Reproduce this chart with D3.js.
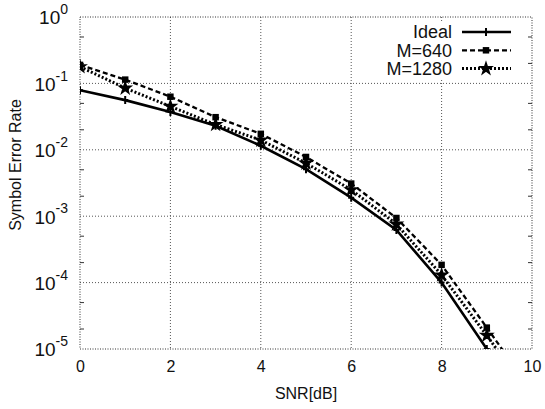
<!DOCTYPE html>
<html><head><meta charset="utf-8">
<script src="https://cdn.jsdelivr.net/npm/d3@7"></script>
<style>body{margin:0;background:#fff}text{font-family:"Liberation Sans",Arial,sans-serif;fill:#111}</style>
</head><body>
<svg id="c" width="545" height="409"></svg>
<script>
const snr = [0,1,2,3,4,5,6,7,8,9,10];
const idealSER = [0.079,0.056,0.037,0.023,0.0115,0.0051,0.0019,0.00062,0.0001,0.00001];
const m640SER  = [0.19,0.114,0.063,0.031,0.0174,0.0078,0.0031,0.00094,0.000185,0.000021,0.0000023];
const m1280SER = [0.178,0.085,0.045,0.024,0.014,0.0063,0.0025,0.00076,0.00013,0.000016,0.0000018];
const seriesNames = ["Ideal","M=640","M=1280"];
const xTicks = [0,2,4,6,8,10];
const yExps = [0,-1,-2,-3,-4,-5];

const svg = d3.select("#c");
const L=80, R=532, T=17, B=349;
const x = d3.scaleLinear().domain([0,10]).range([L,R]);
const y = d3.scaleLog().domain([1e-5,1]).range([B,T]);

svg.append("defs").append("clipPath").attr("id","clip")
  .append("rect").attr("x",L).attr("y",T).attr("width",R-L).attr("height",B-T);

const grid = svg.append("g").attr("stroke","#555").attr("stroke-width",1).attr("stroke-dasharray","1,2");
xTicks.slice(1,-1).forEach(v=>grid.append("line").attr("x1",x(v)).attr("x2",x(v)).attr("y1",T).attr("y2",B));
yExps.slice(1,-1).forEach(e=>grid.append("line").attr("x1",L).attr("x2",R).attr("y1",y(Math.pow(10,e))).attr("y2",y(Math.pow(10,e))));

// minor ticks (2 and 5 per decade)
const minor=[];
for(let e=-5;e<0;e++){ minor.push(2*Math.pow(10,e)); minor.push(5*Math.pow(10,e)); }
const tk = svg.append("g").attr("stroke","#333").attr("stroke-width",1);
minor.forEach(v=>{
  tk.append("line").attr("x1",L).attr("x2",L+4).attr("y1",y(v)).attr("y2",y(v));
  tk.append("line").attr("x1",R).attr("x2",R-4).attr("y1",y(v)).attr("y2",y(v));
});

// frame (dotted)
svg.append("rect").attr("x",L).attr("y",T).attr("width",R-L).attr("height",B-T)
  .attr("fill","none").attr("stroke","#333").attr("stroke-width",1).attr("stroke-dasharray","1,1.5");

// axes labels
const xa = svg.append("g").attr("transform",`translate(0,${B})`)
  .call(d3.axisBottom(x).tickValues(xTicks).tickSize(0).tickPadding(12).tickFormat(d3.format("d")));
xa.select(".domain").remove();
xa.selectAll("text").attr("font-size",16).style("font-family","'Liberation Sans',Arial,sans-serif").attr("fill","#111");

const ya = svg.append("g").attr("transform",`translate(${L},0)`)
  .call(d3.axisLeft(y).tickValues(yExps.map(e=>Math.pow(10,e))).tickSize(0).tickPadding(12).tickFormat(""));
ya.select(".domain").remove();
ya.selectAll(".tick text").each(function(d){
  const t=d3.select(this).attr("font-size",19).attr("dy","0.36em").style("font-family","'Liberation Sans',Arial,sans-serif").attr("fill","#111");
  t.text(null);
  t.append("tspan").text("10");
  t.append("tspan").attr("font-size",14).attr("dy","-0.72em").text(String(Math.round(Math.log10(d))));
});

svg.append("text").attr("x",306).attr("y",399).attr("text-anchor","middle").attr("font-size",16).text("SNR[dB]");
svg.append("text").attr("transform","translate(21,165) rotate(-90)").attr("text-anchor","middle").attr("font-size",16).text("Symbol Error Rate");

// series
const styles = [
  {data:idealSER, dash:null, w:2.6, marker:"plus"},
  {data:m640SER, dash:"5,3", w:2.3, marker:"square"},
  {data:m1280SER, dash:"2,2", w:3, marker:"star"}
];
const plot = svg.append("g").attr("clip-path","url(#clip)");
const line = d3.line().x(d=>x(d[0])).y(d=>y(d[1]));
function drawMarker(g, type, cx, cy){
  if(type==="plus"){
    g.append("path").attr("d",`M${cx-3},${cy}H${cx+3}M${cx},${cy-4}V${cy+4}`).attr("stroke","#000").attr("stroke-width",2);
  } else if(type==="square"){
    g.append("path").attr("transform",`translate(${cx},${cy})`).attr("d",d3.symbol(d3.symbolSquare,42)()).attr("fill","#000");
  } else {
    g.append("path").attr("transform",`translate(${cx},${cy})`).attr("d",d3.symbol(d3.symbolStar,40)()).attr("fill","#000").attr("stroke","#000").attr("stroke-width",1.5);
  }
}
styles.forEach(s=>{
  const pts = s.data.map((v,i)=>[snr[i],v]);
  plot.append("path").attr("d",line(pts)).attr("fill","none").attr("stroke","#000")
    .attr("stroke-width",s.w).attr("stroke-dasharray",s.dash);
  pts.forEach(p=>{ if(p[1]>=1e-5) drawMarker(plot,s.marker,x(p[0]),y(p[1])); });
});

// legend
const lg = svg.append("g");
lg.append("rect").attr("x",392).attr("y",21).attr("width",126).attr("height",58).attr("fill","#fff");
seriesNames.forEach((n,i)=>{
  const yy = 32 + i*18.3;
  lg.append("text").attr("x",452).attr("y",yy).attr("dy","0.36em").attr("text-anchor","end").attr("font-size",18).text(n);
  lg.append("line").attr("x1",462).attr("x2",511).attr("y1",yy).attr("y2",yy).attr("stroke","#000")
    .attr("stroke-width",styles[i].w).attr("stroke-dasharray",styles[i].dash);
  drawMarker(lg,styles[i].marker,486,yy);
});
</script>
</body></html>
